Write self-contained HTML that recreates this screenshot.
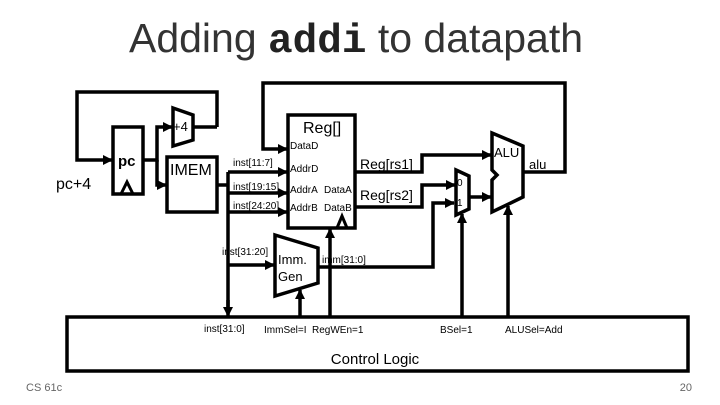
<!DOCTYPE html>
<html><head><style>
body{margin:0;background:#fff;}
svg{display:block;}
text{font-family:"Liberation Sans",sans-serif;}
</style></head><body>
<svg width="720" height="405" viewBox="0 0 720 405" xmlns="http://www.w3.org/2000/svg">
<defs>
<marker id="b" markerWidth="10" markerHeight="10" refX="9" refY="5" orient="auto" markerUnits="userSpaceOnUse" viewBox="0 0 10 10"><path d="M0,0 L10,5 L0,10 z" fill="#000"/></marker>
</defs>
<text x="356" y="52" font-size="41" text-anchor="middle" fill="#333">Adding <tspan font-family="Liberation Mono" font-weight="bold" fill="#222">addi</tspan> to datapath</text>
<g stroke="#000" stroke-width="3.5" fill="none">
<rect x="113" y="127" width="30" height="67" fill="#fff"/>
<path d="M121,194 L127,182 L133,194" stroke-width="3"/>
<polyline points="217,127 217,92 77,92 77,160 112,160" marker-end="url(#b)"/>
<polyline points="143,160 157,160 157,127 172,127" marker-end="url(#b)"/>
<polyline points="157,160 157,185 166,185" marker-end="url(#b)"/>
<path d="M173,108 L193,115 L193,140 L173,146 Z" fill="#fff"/>
<line x1="193" y1="127" x2="217" y2="127"/>
<rect x="167" y="157" width="50" height="55" fill="#fff"/>
<polyline points="217,185 228,185"/>
<line x1="228" y1="172" x2="228" y2="312"/>
<polyline points="228,172 287,172" marker-end="url(#b)"/>
<polyline points="228,193 287,193" marker-end="url(#b)"/>
<polyline points="228,212 287,212" marker-end="url(#b)"/>
<polyline points="228,265 274,265" marker-end="url(#b)"/>
<polyline points="228,300 228,316" marker-end="url(#b)"/>
<rect x="288" y="115" width="67" height="113" fill="#fff"/>
<path d="M337,228 L342,216 L347,228" stroke-width="3"/>
<polyline points="523,172 565,172 565,83 263,83 263,149 287,149" marker-end="url(#b)"/>
<path d="M275,235 L318,248 L318,283 L275,296 Z" fill="#fff"/>
<polyline points="318,267 433,267 433,203 454,203" marker-end="url(#b)"/>
<polyline points="330,316 330,229" marker-end="url(#b)"/>
<polyline points="300,316 300,290" marker-end="url(#b)"/>
<polyline points="355,172 422,172 422,155 491,155" marker-end="url(#b)"/>
<polyline points="355,207 422,207 422,185 455,185" marker-end="url(#b)"/>
<path d="M456,170 L469,176 L469,209 L456,215 Z" fill="#fff"/>
<polyline points="469,197 491,197" marker-end="url(#b)"/>
<path d="M492,133 L523,146 L523,197 L492,212 L492,180 L497,175 L492,170 Z" fill="#fff"/>
<polyline points="462,316 462,214" marker-end="url(#b)"/>
<polyline points="508,316 508,206" marker-end="url(#b)"/>
<rect x="67" y="317" width="621" height="54" fill="#fff"/>
</g>
<g font-size="10" fill="#000">
<text x="173" y="131" font-size="13">+4</text>
<text x="118" y="166" font-size="15" font-family="Liberation Serif" font-weight="bold">pc</text>
<text x="170" y="175" font-size="16">IMEM</text>
<text x="56" y="189" font-size="16">pc+4</text>
<text x="303" y="133" font-size="16">Reg[]</text>
<text x="290" y="149">DataD</text>
<text x="290" y="172">AddrD</text>
<text x="290" y="193">AddrA</text>
<text x="324" y="193">DataA</text>
<text x="290" y="211">AddrB</text>
<text x="324" y="211">DataB</text>
<text x="233" y="166">inst[11:7]</text>
<text x="233" y="190">inst[19:15]</text>
<text x="233" y="209">inst[24:20]</text>
<text x="222" y="255">inst[31:20]</text>
<text x="278" y="264" font-size="13">Imm.</text>
<text x="278" y="281" font-size="13">Gen</text>
<text x="322" y="263">imm[31:0]</text>
<text x="360" y="169" font-size="14">Reg[rs1]</text>
<text x="360" y="200" font-size="14">Reg[rs2]</text>
<text x="457" y="186">0</text>
<text x="457" y="206">1</text>
<text x="494" y="157" font-size="13">ALU</text>
<text x="529" y="169" font-size="13">alu</text>
<text x="204" y="332">inst[31:0]</text>
<text x="264" y="333">ImmSel=I</text>
<text x="312" y="333">RegWEn=1</text>
<text x="440" y="333">BSel=1</text>
<text x="505" y="333">ALUSel=Add</text>
<text x="375" y="364" font-size="15" text-anchor="middle">Control Logic</text>
<text x="26" y="391" font-size="11" fill="#666">CS 61c</text>
<text x="692" y="391" font-size="11" fill="#666" text-anchor="end">20</text>
</g>
</svg>
</body></html>
